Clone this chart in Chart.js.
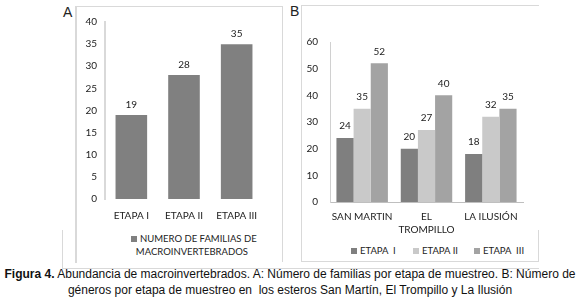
<!DOCTYPE html>
<html>
<head>
<meta charset="utf-8">
<script src="https://cdn.jsdelivr.net/npm/chart.js@4.4.1/dist/chart.umd.min.js"></script>
<style>
  body { margin: 0; background: #fff; width: 580px; height: 304px; position: relative; overflow: hidden; font-family: Lato, sans-serif; }
  .ln { position: absolute; background: #d9d9d9; }
  .panel { position: absolute; }
  .letter { position: absolute; font-family: "Liberation Sans", Arial, sans-serif; font-size: 14px; color: #222; }
  .leg { position: absolute; font-size: 9.5px; color: #222; white-space: pre; line-height: 13px; }
  .sw { display: inline-block; width: 6px; height: 6px; margin-right: 3px; vertical-align: 0px; }
  .cap { position: absolute; left: 0; width: 580px; text-align: center; font-family: "Liberation Sans", Arial, sans-serif; font-size: 12px; color: #111; white-space: nowrap; }
</style>
</head>
<body>
<!-- frames -->
<div class="ln" style="left:75px; top:6px; width:208px; height:1px;"></div>
<div class="ln" style="left:75px; top:6px; width:2px; height:257px;"></div>
<div class="ln" style="left:282px; top:6px; width:1px; height:256px;"></div>
<div class="ln" style="left:301px; top:5px; width:238px; height:1px;"></div>
<div class="ln" style="left:301px; top:5px; width:1px; height:257px;"></div>
<div class="ln" style="left:301px; top:261px; width:238px; height:1px;"></div>
<div class="ln" style="left:538px; top:230px; width:1px; height:32px;"></div>
<div class="ln" style="left:62px; top:230px; width:1px; height:39px;"></div>
<div class="ln" style="left:62px; top:268px; width:477px; height:1px;"></div>

<div class="letter" style="left:63px; top:4px;">A</div>
<div class="letter" style="left:290px; top:3px;">B</div>

<canvas id="chartA" class="panel" style="left:76px; top:8px;" width="200" height="218"></canvas>
<canvas id="chartB" class="panel" style="left:304px; top:24px;" width="228" height="212"></canvas>

<div class="leg" style="left:131px; top:232px;"><span class="sw" id="swA"></span>NUMERO DE FAMILIAS DE
  MACROINVERTEBRADOS</div>
<div class="leg" style="left:351px; top:244px;"><span class="sw" id="sw0"></span>ETAPA  I</div>
<div class="leg" style="left:413px; top:244px;"><span class="sw" id="sw1"></span>ETAPA II</div>
<div class="leg" style="left:474px; top:244px;"><span class="sw" id="sw2"></span>ETAPA  III</div>

<div class="cap" style="top:267px;"><b>Figura 4.</b> Abundancia de macroinvertebrados. A: Número de familias por etapa de muestreo. B: Número de</div>
<div class="cap" style="top:283px;">géneros por etapa de muestreo en &nbsp;los esteros San Martín, El Trompillo y La Ilusión</div>

<script>
// Panel A: familias por etapa
const etapas = ['ETAPA I', 'ETAPA II', 'ETAPA III'];
const familias = [19, 28, 35];
const ticksA = [0, 5, 10, 15, 20, 25, 30, 35, 40];

// Panel B: generos por estero y etapa (second label line on its own axis)
const esteros = ['SAN MARTIN', 'EL', 'LA ILUSIÓN'];
const esterosLinea2 = ['', 'TROMPILLO', ''];
const etapaLabels = ['ETAPA  I', 'ETAPA II', 'ETAPA  III'];
const etapa1 = [24, 20, 18];
const etapa2 = [35, 27, 32];
const etapa3 = [52, 40, 35];
const ticksB = [0, 10, 20, 30, 40, 50, 60];

const colorA = '#808080';
const colorsB = ['#7f7f7f', '#c9c9c9', '#a3a3a3'];
const tickFont = { family: 'Lato', size: 10, lineHeight: 1.2 };
const textColor = '#222';

document.getElementById('swA').style.background = colorA;
colorsB.forEach((c, i) => document.getElementById('sw' + i).style.background = c);

// value labels above the bars
const valueLabels = {
    id: 'valueLabels',
    afterDatasetsDraw(chart, args, opts) {
        const ctx = chart.ctx;
        ctx.save();
        ctx.font = '10px Lato';
        ctx.fillStyle = textColor;
        ctx.textAlign = 'center';
        ctx.textBaseline = 'middle';
        chart.data.datasets.forEach((ds, i) => {
            chart.getDatasetMeta(i).data.forEach((bar, j) => {
                ctx.fillText(ds.data[j], bar.x, bar.y - opts.offset);
            });
        });
        ctx.restore();
    }
};

new Chart(document.getElementById('chartA'), {
    type: 'bar',
    data: {
        labels: etapas,
        datasets: [{ data: familias, backgroundColor: colorA, barPercentage: 0.6, categoryPercentage: 1 }]
    },
    plugins: [valueLabels],
    options: {
        responsive: false,
        animation: false,
        layout: { padding: { top: 14, right: 13, left: 0, bottom: 0 } },
        plugins: { legend: { display: false }, tooltip: { enabled: false }, valueLabels: { offset: 10 } },
        scales: {
            x: {
                grid: { display: false, drawTicks: false },
                border: { display: false },
                ticks: { font: tickFont, color: textColor, padding: 11, maxRotation: 0 },
                afterFit: s => { s.height = 27; }
            },
            y: {
                min: 0, max: 40,
                grid: { display: false, drawTicks: false },
                border: { display: true, color: '#d9d9d9', width: 2 },
                ticks: { font: tickFont, color: textColor, padding: 8, stepSize: 5 },
                afterBuildTicks: s => { s.ticks = ticksA.map(v => ({ value: v })); },
                afterFit: s => { s.width = 29; }
            }
        }
    }
});

new Chart(document.getElementById('chartB'), {
    type: 'bar',
    data: {
        labels: esteros,
        datasets: [etapa1, etapa2, etapa3].map((d, i) => ({
            label: etapaLabels[i], data: d, backgroundColor: colorsB[i],
            barPercentage: 1, categoryPercentage: 0.8
        }))
    },
    plugins: [valueLabels],
    options: {
        responsive: false,
        animation: false,
        layout: { padding: { top: 15, right: 9, left: 0, bottom: 0 } },
        plugins: { legend: { display: false }, tooltip: { enabled: false }, valueLabels: { offset: 12 } },
        scales: {
            x: {
                weight: 0,
                grid: { display: false, drawTicks: false },
                border: { display: true, color: '#bfbfbf', width: 1 },
                ticks: { font: tickFont, color: textColor, padding: 9, maxRotation: 0, autoSkip: false },
                afterFit: s => { s.height = 21; }
            },
            x2: {
                type: 'category',
                position: 'bottom',
                weight: 1,
                labels: esterosLinea2,
                grid: { display: false, drawTicks: false },
                border: { display: false },
                ticks: { font: tickFont, color: textColor, padding: 1, maxRotation: 0, autoSkip: false },
                afterFit: s => { s.height = 13; }
            },
            y: {
                min: 0, max: 60,
                grid: { display: false, drawTicks: false },
                border: { display: true, color: '#d0d0d0', width: 1 },
                ticks: { font: tickFont, color: textColor, padding: 12, stepSize: 10 },
                afterBuildTicks: s => { s.ticks = ticksB.map(v => ({ value: v })); },
                afterFit: s => { s.width = 26; }
            }
        }
    }
});
</script>
</body>
</html>
